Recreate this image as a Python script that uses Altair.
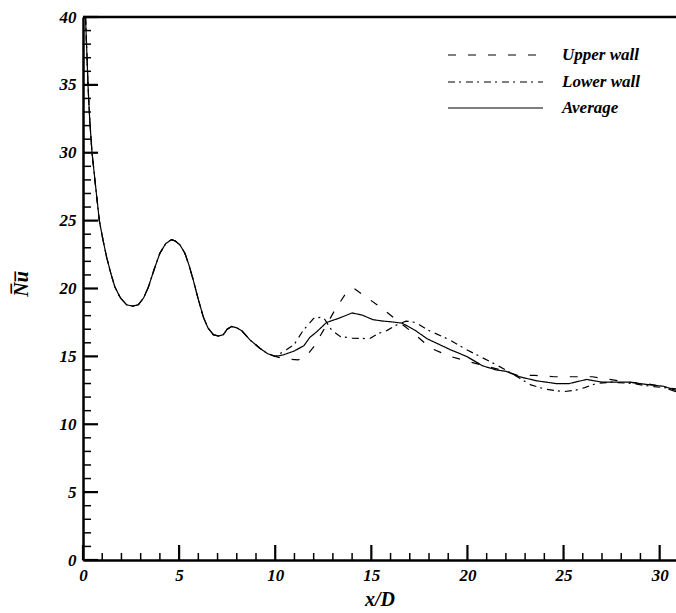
import altair as alt
import pandas as pd

# Entrance region, where both walls give the same Nusselt number
x_common = [0.13, 0.2, 0.26, 0.35, 0.47, 0.62, 0.85, 1.05, 1.23, 1.45, 1.66, 1.95,
            2.27, 2.58, 2.88, 3.15, 3.4, 3.7, 4.0, 4.3, 4.6, 4.8, 5.05, 5.3, 5.52,
            5.74, 6.0, 6.26, 6.5, 6.78, 7.05, 7.3, 7.5, 7.73, 8.0, 8.25, 8.7, 9.2,
            9.6, 10.0]
nu_common = [40.0, 37.4, 35.0, 32.4, 30.0, 28.0, 25.0, 23.5, 22.3, 21.1, 20.1, 19.3,
             18.8, 18.7, 18.8, 19.3, 20.1, 21.4, 22.6, 23.3, 23.6, 23.5, 23.2, 22.6,
             21.7, 20.6, 19.2, 17.9, 17.1, 16.6, 16.5, 16.6, 17.0, 17.2, 17.1, 16.9,
             16.2, 15.6, 15.2, 15.0]

# Downstream part of each curve
x_upper = [10.5, 11.2, 11.6, 12.0, 12.5, 13.1, 13.7, 14.1, 14.6, 15.4, 16.3, 17.2,
           18.1, 19.1, 20.1, 21.2, 22.0, 22.6, 23.5, 24.5, 25.5, 26.5, 27.4, 28.4,
           29.3, 30.0, 30.85]
nu_upper = [14.8, 14.75, 15.0, 15.7, 16.9, 18.4, 19.7, 20.0, 19.5, 18.7, 17.7, 16.7,
            15.6, 15.0, 14.6, 14.2, 13.9, 13.6, 13.6, 13.5, 13.5, 13.5, 13.3, 13.1,
            13.0, 12.8, 12.4]

x_lower = [10.6, 11.0, 11.45, 12.0, 12.5, 12.95, 13.4, 14.0, 14.9, 15.4, 15.8, 16.3,
           16.8, 17.3, 18.0, 19.1, 19.95, 21.2, 22.0, 22.7, 23.3, 24.0, 25.0, 25.6,
           26.1, 26.7, 27.5, 28.6, 29.5, 30.2, 30.85]
nu_lower = [15.5, 15.9, 16.9, 17.8, 17.9, 16.9, 16.45, 16.35, 16.3, 16.7, 16.9, 17.3,
            17.6, 17.5, 16.9, 16.2, 15.5, 14.6, 14.0, 13.4, 12.9, 12.6, 12.4, 12.5,
            12.7, 13.0, 13.1, 13.0, 12.8, 12.7, 12.6]

x_avg = [10.4, 11.0, 11.5, 11.8, 12.15, 12.67, 13.3, 14.0, 14.5, 15.1, 15.6, 16.0,
         16.6, 17.3, 17.9, 18.5, 19.1, 19.95, 20.8, 21.5, 22.0, 22.7, 23.6, 24.6,
         25.3, 26.2, 27.0, 28.4, 29.5, 30.2, 30.85]
nu_avg = [15.1, 15.4, 15.8, 16.4, 16.8, 17.5, 17.8, 18.2, 18.05, 17.7, 17.6, 17.55,
          17.45, 16.9, 16.3, 15.9, 15.5, 15.0, 14.3, 14.0, 13.9, 13.5, 13.2, 13.0,
          13.0, 13.3, 13.1, 13.1, 12.9, 12.8, 12.5]

series_names = ["Upper wall", "Lower wall", "Average"]
dash_styles = [[8, 12], [7, 4, 2, 5], [1, 0]]

x_major = [0, 5, 10, 15, 20, 25, 30]
x_minor = [v for v in range(0, 31) if v % 5 != 0]
y_major = [0, 5, 10, 15, 20, 25, 30, 35, 40]
y_minor = [v for v in range(0, 41) if v % 5 != 0]

W, H = 593, 543
FONT = "Liberation Serif"

rows = []
for name, xs, ys in [("Upper wall", x_upper, nu_upper),
                     ("Lower wall", x_lower, nu_lower),
                     ("Average", x_avg, nu_avg)]:
    for xv, yv in zip(x_common + xs, nu_common + ys):
        rows.append({"x": xv, "nu": yv, "series": name})
df = pd.DataFrame(rows)

xscale = alt.Scale(domain=[0, 30.85], nice=False, zero=False)
yscale = alt.Scale(domain=[0, 40], nice=False)

x_axis = alt.Axis(values=x_major, ticks=False, grid=False, domain=True,
                  domainColor="black", domainWidth=2.5, labelPadding=7,
                  title="x/D", titleFontSize=20, titleX=W / 2, titleY=45,
                  titleBaseline="alphabetic")
y_axis = alt.Axis(values=y_major, ticks=False, grid=False, domain=True,
                  domainColor="black", domainWidth=2.5, labelPadding=7,
                  title="N\u0305u\u0305", titleFontSize=20, titleX=-62,
                  titleY=H / 2 - 5, titleBaseline="middle", titleAngle=270)

lines = alt.Chart(df).mark_line(color="black", strokeWidth=1.2, clip=True).encode(
    x=alt.X("x:Q", scale=xscale, axis=x_axis, title="x/D"),
    y=alt.Y("nu:Q", scale=yscale, axis=y_axis, title="N\u0305u\u0305"),
    strokeDash=alt.StrokeDash("series:N",
                              scale=alt.Scale(domain=series_names, range=dash_styles),
                              legend=None),
    detail="series:N",
    order="x:Q",
)

# Inward tick marks on the bottom and left axes
xt_major = alt.Chart(pd.DataFrame({"v": x_major})).mark_rule(color="black", strokeWidth=2.2).encode(
    x=alt.X("v:Q", scale=xscale, axis=x_axis, title="x/D"), y=alt.value(H), y2=alt.value(H - 15))
xt_minor = alt.Chart(pd.DataFrame({"v": x_minor})).mark_rule(color="black", strokeWidth=1.5).encode(
    x=alt.X("v:Q", scale=xscale, axis=x_axis, title="x/D"), y=alt.value(H), y2=alt.value(H - 7))
yt_major = alt.Chart(pd.DataFrame({"v": y_major})).mark_rule(color="black", strokeWidth=2.2).encode(
    y=alt.Y("v:Q", scale=yscale, axis=y_axis, title="N\u0305u\u0305"), x=alt.value(0), x2=alt.value(15))
yt_minor = alt.Chart(pd.DataFrame({"v": y_minor})).mark_rule(color="black", strokeWidth=1.5).encode(
    y=alt.Y("v:Q", scale=yscale, axis=y_axis, title="N\u0305u\u0305"), x=alt.value(0), x2=alt.value(8))

# Top frame line
frame_top = alt.Chart(pd.DataFrame({"a": [0]})).mark_rule(color="black", strokeWidth=2.5).encode(
    x=alt.value(0), x2=alt.value(W), y=alt.value(0))

# Legend in the upper right corner
legend_layers = []
legend_rows = [38, 65, 91]
for name, dash, yp in zip(series_names, dash_styles, legend_rows):
    legend_layers.append(
        alt.Chart(pd.DataFrame({"series": [name]})).mark_rule(
            color="black", strokeWidth=1.2, strokeDash=dash).encode(
            x=alt.value(365), x2=alt.value(460), y=alt.value(yp)))
    legend_layers.append(
        alt.Chart(pd.DataFrame({"series": [name]})).mark_text(
            align="left", baseline="middle", font=FONT, fontSize=17,
            fontStyle="italic", fontWeight="bold", color="black").encode(
            x=alt.value(479), y=alt.value(yp), text="series:N"))

chart = alt.layer(
    lines, xt_major, xt_minor, yt_major, yt_minor, frame_top, *legend_layers
).properties(
    width=W, height=H,
    autosize=alt.AutoSizeParams(type="none"),
    padding={"left": 83, "top": 17, "right": 0, "bottom": 53},
).configure_view(
    stroke=None
).configure_axis(
    labelFont=FONT, labelFontSize=17, labelFontStyle="italic", labelFontWeight="bold",
    labelColor="black", titleFont=FONT, titleFontStyle="italic", titleFontWeight="bold",
    titleColor="black", labelFlush=False, labelOverlap=False,
)

chart.save("out.html", embed_options={"renderer": "svg", "actions": False})
